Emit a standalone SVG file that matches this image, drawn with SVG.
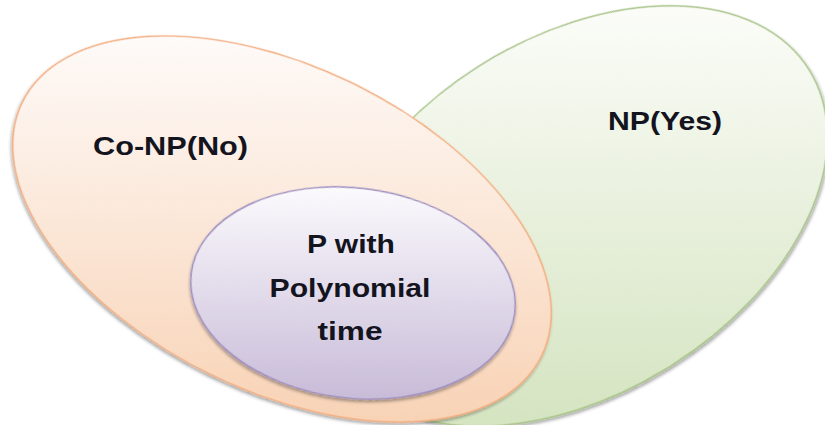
<svg xmlns="http://www.w3.org/2000/svg" width="825" height="425" viewBox="0 0 825 425">
  <defs>
    <!-- vertical fills, counter-rotated so they stay upright on tilted ellipses -->
    <linearGradient id="gradNP" gradientUnits="userSpaceOnUse" x1="0" y1="10" x2="0" y2="420" gradientTransform="rotate(32 575 216)">
      <stop offset="0" stop-color="#fbfcf8"/>
      <stop offset="1" stop-color="#d5e4c1"/>
    </linearGradient>
    <linearGradient id="gradCoNP" gradientUnits="userSpaceOnUse" x1="0" y1="40" x2="0" y2="418" gradientTransform="rotate(-26 282 229)">
      <stop offset="0" stop-color="#fefaf8"/>
      <stop offset="1" stop-color="#f8d3b6"/>
    </linearGradient>
    <linearGradient id="gradP" gradientUnits="userSpaceOnUse" x1="0" y1="187" x2="0" y2="400" gradientTransform="rotate(-7 353 293)">
      <stop offset="0" stop-color="#fbfafd"/>
      <stop offset="1" stop-color="#c8bbd8"/>
    </linearGradient>
    <filter id="shadow" x="-10%" y="-10%" width="120%" height="125%">
      <feDropShadow dx="0" dy="2.5" stdDeviation="1.6" flood-color="#000" flood-opacity="0.35"/>
    </filter>
  </defs>
  <style>
    .label { font-family: "Liberation Sans", Arial, sans-serif; font-weight: bold; font-size: 26px; fill: #14141f; }
    .set { filter: url(#shadow); }
  </style>

  <g id="np">
    <ellipse class="set" cx="575" cy="216" rx="276" ry="178" transform="rotate(-32 575 216)" fill="url(#gradNP)" stroke="#a8c488" stroke-width="1.5"/>
    <text class="label" x="608" y="130" textLength="114" lengthAdjust="spacingAndGlyphs">NP(Yes)</text>
  </g>

  <g id="conp">
    <ellipse class="set" cx="282" cy="229" rx="289" ry="162" transform="rotate(26 282 229)" fill="url(#gradCoNP)" stroke="#f3ac7c" stroke-width="1.5"/>
    <text class="label" x="93" y="155" textLength="155" lengthAdjust="spacingAndGlyphs">Co-NP(No)</text>
  </g>

  <g id="p">
    <ellipse class="set" cx="353" cy="293" rx="163" ry="105" transform="rotate(7 353 293)" fill="url(#gradP)" stroke="#9f8fc0" stroke-width="1.5"/>
    <text class="label" x="351" y="253" text-anchor="middle" textLength="88" lengthAdjust="spacingAndGlyphs">P with</text>
    <text class="label" x="350" y="297" text-anchor="middle" textLength="161" lengthAdjust="spacingAndGlyphs">Polynomial</text>
    <text class="label" x="350" y="340" text-anchor="middle" textLength="65" lengthAdjust="spacingAndGlyphs">time</text>
  </g>

  <g id="connectors"/>
</svg>
